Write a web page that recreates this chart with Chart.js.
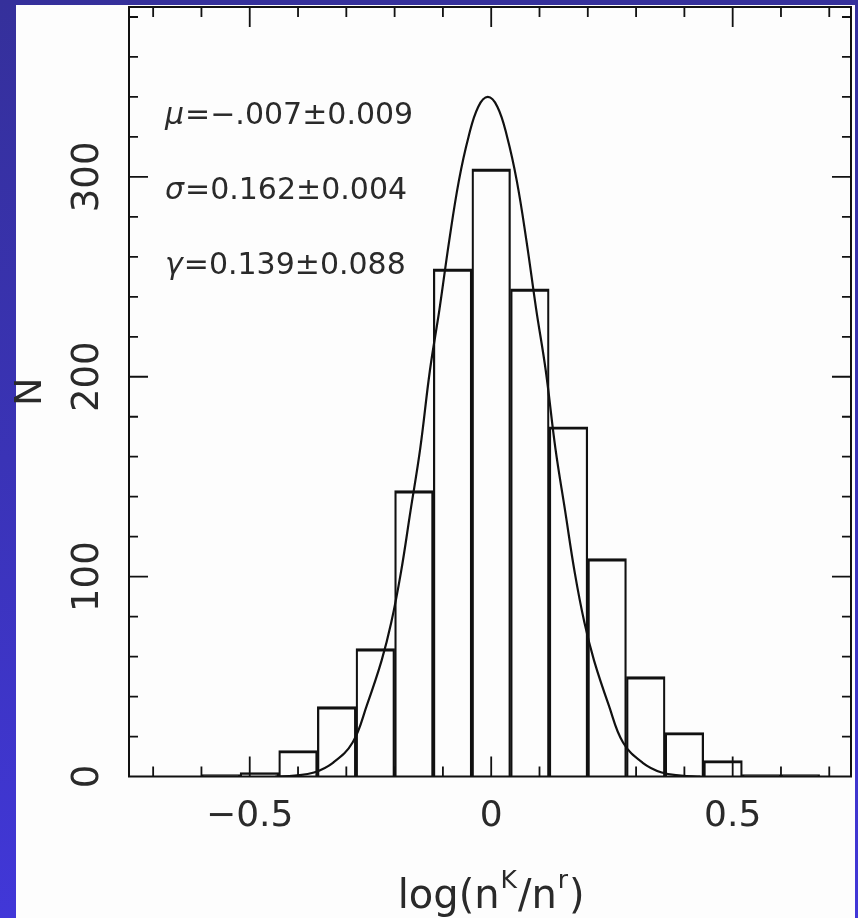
<!DOCTYPE html>
<html><head><meta charset="utf-8">
<script src="https://cdn.jsdelivr.net/npm/chart.js@4.4.1/dist/chart.umd.min.js"></script>
<style>
html,body{margin:0;padding:0;width:858px;height:918px;overflow:hidden;
  background:linear-gradient(to bottom,#35309b 0%,#3a33b6 50%,#4137d8 100%);}
#panel{position:absolute;left:16px;top:5px;width:839px;height:913px;background:#fdfdfd;}
#c{position:absolute;left:0;top:0;}
</style></head><body>
<div id="panel"></div>
<canvas id="c" width="858" height="918"></canvas>
<script>
// ---- data ----
const binCenters = [-0.56,-0.48,-0.40,-0.32,-0.24,-0.16,-0.08,0,0.08,0.16,0.24,0.32,0.40,0.48,0.56,0.64];
const counts     = [1, 2, 13, 35, 64, 143, 254, 304, 244, 175, 109, 50, 22, 8, 1, 1];

const curveX = [-0.447,-0.407,-0.367,-0.327,-0.287,-0.257,-0.227,-0.207,-0.187,-0.167,-0.147,-0.127,-0.107,-0.087,-0.067,-0.047,-0.027,-0.007,
                 0.013,0.033,0.053,0.073,0.093,0.113,0.133,0.153,0.173,0.193,0.213,0.243,0.273,0.313,0.353,0.393,0.433];
const curveY = [0,0.5,2,7,17,36,58,77,102,133,164,203,234,268,298,320,335,340,
                335,320,298,268,234,203,164,133,102,77,58,36,17,7,2,0.5,0];

const xTickLabels = [-0.5, 0, 0.5];
const yTickLabels = [0, 100, 200, 300];
const statSymbols = ['μ', 'σ', 'γ'];
const statTexts   = ['=−.007±0.009', '=0.162±0.004', '=0.139±0.088'];
const xTitleParts = [['log(n',0],['K',1],['/n',0],['r',1],[')',0]];
const yTitle = 'N';

const FONT = '"DejaVu Sans", "Liberation Sans", sans-serif';
const TXT = '#2a2a2a';

const decorPlugin = {
  id: 'decor',
  afterDatasetsDraw(chart) {
    const {ctx, chartArea: a, scales: {x, y}} = chart;
    ctx.save();
    ctx.strokeStyle = '#111';
    ctx.lineWidth = 2;
    ctx.strokeRect(a.left, a.top, a.right - a.left, a.bottom - a.top);
    ctx.lineWidth = 1.8;
    ctx.beginPath();
    for (let k = -7; k <= 7; k++) {
      const px = x.getPixelForValue(k / 10);
      const len = (k % 5 === 0) ? 20 : 10;
      ctx.moveTo(px, a.bottom); ctx.lineTo(px, a.bottom - len);
      ctx.moveTo(px, a.top); ctx.lineTo(px, a.top + len);
    }
    for (let v = 20; v < y.max; v += 20) {
      const py = y.getPixelForValue(v);
      const len = (v % 100 === 0) ? 19 : 9;
      ctx.moveTo(a.left, py); ctx.lineTo(a.left + len, py);
      ctx.moveTo(a.right, py); ctx.lineTo(a.right - len, py);
    }
    ctx.stroke();

    ctx.fillStyle = TXT;
    // y tick labels (rotated)
    ctx.font = '37px ' + FONT;
    ctx.textAlign = 'center';
    ctx.textBaseline = 'middle';
    yTickLabels.forEach(v => {
      ctx.save();
      ctx.translate(a.left - 41, y.getPixelForValue(v));
      ctx.rotate(-Math.PI / 2);
      ctx.fillText(String(v), 0, 0);
      ctx.restore();
    });
    // y title
    ctx.save();
    ctx.font = '38px ' + FONT;
    ctx.translate(31, (a.top + a.bottom) / 2);
    ctx.rotate(-Math.PI / 2);
    ctx.fillText(yTitle, 0, 0);
    ctx.restore();

    // stats text
    ctx.textAlign = 'left';
    const sy = [116, 191, 266];
    statSymbols.forEach((s, i) => {
      ctx.font = 'italic 30px ' + FONT;
      const w = ctx.measureText(s).width;
      ctx.fillText(s, 165, sy[i]);
      ctx.font = '30px ' + FONT;
      ctx.fillText(statTexts[i], 165 + w + 1, sy[i]);
    });

    // x title with superscripts
    ctx.textBaseline = 'alphabetic';
    let total = 0;
    const widths = xTitleParts.map(([t, sup]) => {
      ctx.font = (sup ? '25px ' : '40px ') + FONT;
      const w = ctx.measureText(t).width + (sup ? 2 : 0);
      total += w; return w;
    });
    let cx = x.getPixelForValue(0) - total / 2;
    xTitleParts.forEach(([t, sup], i) => {
      ctx.font = (sup ? '25px ' : '40px ') + FONT;
      ctx.fillText(t, cx + (sup ? 1 : 0), sup ? 888 : 908);
      cx += widths[i];
    });
    ctx.restore();
  }
};

new Chart(document.getElementById('c'), {
  type: 'bar',
  data: {
    datasets: [
      {
        type: 'line',
        data: curveX.map((v, i) => ({x: v, y: curveY[i]})),
        borderColor: '#111', borderWidth: 2.2, pointRadius: 0,
        tension: 0.4, fill: false, order: 1
      },
      {
        type: 'bar',
        data: binCenters.map((c, i) => ({x: c, y: counts[i]})),
        backgroundColor: 'rgba(0,0,0,0)',
        borderColor: '#111',
        borderWidth: {top: 2.5, left: 1.6, right: 1.6, bottom: 0},
        borderSkipped: false,
        barPercentage: 1, categoryPercentage: 1,
        order: 2
      }
    ]
  },
  options: {
    responsive: false, animation: false, devicePixelRatio: 1,
    layout: {padding: {top: 7, right: 7, left: 0, bottom: 0}},
    plugins: {legend: {display: false}, tooltip: {enabled: false}},
    scales: {
      x: {
        type: 'linear', min: -0.75, max: 0.745, offset: false,
        grid: {display: false, drawTicks: false}, border: {display: false},
        afterBuildTicks: s => { s.ticks = xTickLabels.map(v => ({value: v})); },
        afterFit: s => { s.height = 141.5; },
        ticks: {
          font: {family: FONT, size: 36}, color: TXT, padding: 19,
          maxRotation: 0, autoSkip: false,
          callback: v => v < 0 ? '−' + Math.abs(v) : String(v)
        }
      },
      y: {
        type: 'linear', min: 0, max: 385,
        grid: {display: false, drawTicks: false}, border: {display: false},
        ticks: {display: false},
        afterFit: s => { s.width = 129; }
      }
    }
  },
  plugins: [decorPlugin]
});
</script>
</body></html>
